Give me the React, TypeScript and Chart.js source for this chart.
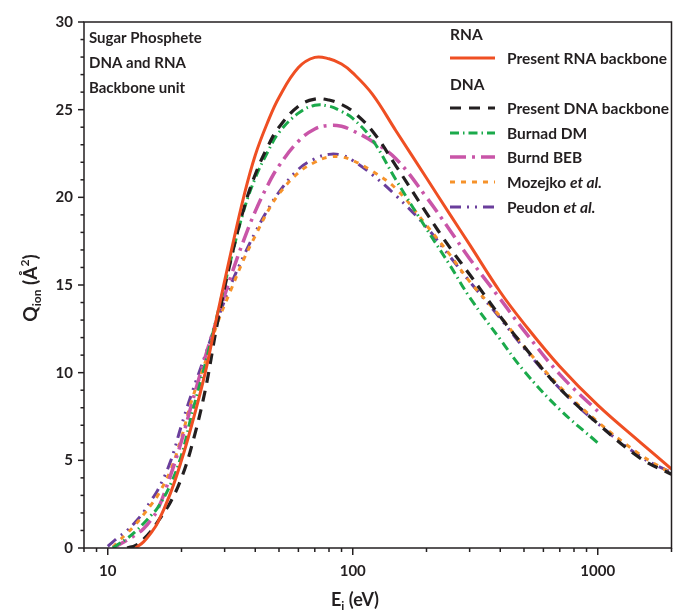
import React, { useEffect, useRef } from 'react';
import { Chart, registerables } from 'chart.js';

Chart.register(...registerables);

// ---- data ----
const energies = [10, 10.5, 11, 12, 13, 14, 15, 16, 18, 20, 22, 25, 28, 32, 36, 40, 45, 50, 60, 70, 80, 90, 100, 120, 150, 200, 250, 300, 400, 500, 700, 1000, 1500, 2000];

const rnaPresent = [null, null, null, null, 0.0, 0.35, 0.85, 1.45, 3.1, 5.0, 7.0, 10.0, 13.3, 17.0, 20.1, 22.4, 24.3, 25.7, 27.4, 27.98, 27.9, 27.6, 27.1, 25.9, 23.8, 21.1, 19.0, 17.3, 14.6, 12.8, 10.35, 8.15, 6.0, 4.5];
const dnaPresent = [null, null, null, 0.0, 0.15, 0.5, 0.95, 1.5, 2.6, 4.0, 5.8, 9.0, 12.8, 16.6, 19.4, 21.3, 22.9, 24.0, 25.2, 25.6, 25.55, 25.3, 24.9, 23.8, 21.8, 19.1, 17.1, 15.6, 13.2, 11.5, 9.1, 7.1, 5.1, 4.2];
const burnadDM = [null, 0.0, 0.2, 0.55, 0.95, 1.4, 1.85, 2.3, 3.6, 5.3, 7.6, 10.5, 13.3, 16.6, 19.3, 21.1, 22.6, 23.7, 24.8, 25.25, 25.2, 24.9, 24.5, 23.3, 21.0, 18.2, 16.1, 14.3, 11.9, 10.1, 7.9, 6.0, null, null];
const burndBEB = [null, 0.0, 0.15, 0.45, 0.75, 1.1, 1.6, 2.2, 4.1, 6.1, 8.2, 10.9, 13.1, 15.6, 17.6, 19.2, 20.7, 21.8, 23.2, 23.9, 24.1, 24.05, 23.8, 23.2, 22.2, 20.0, 18.1, 16.5, 14.2, 12.4, 9.9, 7.8, null, null];
const mozejko = [null, 0.05, 0.35, 0.85, 1.35, 1.9, 2.45, 3.0, 4.4, 6.3, 8.4, 10.6, 12.8, 14.8, 16.5, 17.8, 19.2, 20.2, 21.4, 22.0, 22.3, 22.3, 22.1, 21.5, 20.5, 18.4, 16.7, 15.2, 13.2, 11.5, 9.2, 7.2, 5.3, 4.25];
const peudon = [0.1, 0.35, 0.6, 1.0, 1.5, 2.05, 2.7, 3.3, 4.9, 7.0, 8.8, 11.0, 13.0, 15.1, 16.7, 18.0, 19.3, 20.3, 21.6, 22.2, 22.45, 22.4, 22.1, 21.3, 20.1, 18.3, 16.6, 15.2, 13.1, 11.4, 9.1, 7.1, 5.2, 4.3];

const xTickValues = [10, 100, 1000];
const yTickValues = [0, 5, 10, 15, 20, 25, 30];
const annotationLines = ['Sugar Phosphete', 'DNA and RNA', 'Backbone unit'];

const FONT = "Lato, 'Open Sans', sans-serif";
const INK = '#231F20';

const seriesDefs = [
  { label: 'Present RNA backbone', italic: '', values: rnaPresent, color: '#EF4F23', dash: [] as number[], width: 3 },
  { label: 'Present DNA backbone', italic: '', values: dnaPresent, color: '#231F20', dash: [11, 8], width: 3.2 },
  { label: 'Burnad DM', italic: '', values: burnadDM, color: '#1BAA4B', dash: [9, 4, 1.5, 4], width: 3 },
  { label: 'Burnd BEB', italic: '', values: burndBEB, color: '#C955A8', dash: [16, 6, 3, 6], width: 3.5 },
  { label: 'Mozejko ', italic: 'et al.', values: mozejko, color: '#F6922A', dash: [5, 6], width: 3 },
  { label: 'Peudon ', italic: 'et al.', values: peudon, color: '#6A3E9C', dash: [11, 6, 2, 6, 2, 6], width: 3 },
];

function toPoints(vals: (number | null)[]) {
  return energies.map((x, i) => ({ x, y: vals[i] })).filter((p) => p.y !== null);
}

type Part = { text: string; size: number; dy?: number; italic?: boolean };
function setFont(ctx: CanvasRenderingContext2D, p: Part) {
  ctx.font = `${p.italic ? 'italic ' : ''}bold ${p.size}px ${FONT}`;
}
function richWidth(ctx: CanvasRenderingContext2D, parts: Part[]) {
  let w = 0;
  for (const p of parts) { setFont(ctx, p); w += ctx.measureText(p.text).width; }
  return w;
}
function drawRich(ctx: CanvasRenderingContext2D, parts: Part[], x: number, y: number) {
  let cx = x;
  for (const p of parts) {
    setFont(ctx, p);
    ctx.fillText(p.text, cx, y + (p.dy || 0));
    cx += ctx.measureText(p.text).width;
  }
}

const decorPlugin = {
  id: 'decor',
  afterDraw(chart: any) {
    const { ctx, chartArea: a, scales } = chart;
    const xs = scales.x, ys = scales.y;
    ctx.save();
    ctx.strokeStyle = INK;
    ctx.fillStyle = INK;
    ctx.lineWidth = 1.5;
    ctx.setLineDash([]);
    ctx.strokeRect(a.left, a.top, a.right - a.left, a.bottom - a.top);

    // y ticks
    for (let v = 0; v <= 30; v++) {
      const py = ys.getPixelForValue(v);
      const len = v % 5 === 0 ? 6 : 3.5;
      ctx.beginPath(); ctx.moveTo(a.left - len, py); ctx.lineTo(a.left, py); ctx.stroke();
    }
    // x ticks
    for (const dec of [1, 10, 100, 1000]) {
      for (let m = 1; m <= 9; m++) {
        const v = m * dec;
        if (v < 8 || v > 2000) continue;
        const px = xs.getPixelForValue(v);
        const len = m === 1 ? 7 : 4;
        ctx.beginPath(); ctx.moveTo(px, a.bottom); ctx.lineTo(px, a.bottom + len); ctx.stroke();
      }
    }

    ctx.textAlign = 'left';
    ctx.textBaseline = 'alphabetic';
    // y title
    ctx.save();
    ctx.translate(37, 288);
    ctx.rotate(-Math.PI / 2);
    const yParts: Part[] = [
      { text: 'Q', size: 19 }, { text: 'ion', size: 12, dy: 4 },
      { text: ' (Å', size: 19 }, { text: '2', size: 12, dy: -8 }, { text: ')', size: 19 },
    ];
    drawRich(ctx, yParts, -richWidth(ctx, yParts) / 2, 0);
    ctx.restore();

    // x title
    const xParts: Part[] = [{ text: 'E', size: 18 }, { text: 'i', size: 12, dy: 4 }, { text: ' (eV)', size: 18 }];
    drawRich(ctx, xParts, 355 - richWidth(ctx, xParts) / 2, 606);

    // annotation
    ctx.font = `bold 15px ${FONT}`;
    annotationLines.forEach((t, i) => ctx.fillText(t, 89, 43 + i * 25));

    // legend
    ctx.font = `bold 15.5px ${FONT}`;
    ctx.fillText('RNA', 450, 40);
    ctx.fillText('DNA', 450, 90);
    const rowsY = [58, 108, 133, 157, 182, 207];
    seriesDefs.forEach((s, i) => {
      const y = rowsY[i];
      ctx.save();
      ctx.strokeStyle = s.color;
      ctx.lineWidth = s.width;
      ctx.setLineDash(s.dash);
      ctx.beginPath(); ctx.moveTo(450, y); ctx.lineTo(495, y); ctx.stroke();
      ctx.restore();
      ctx.textBaseline = 'middle';
      const parts: Part[] = [{ text: s.label, size: 15.5 }];
      if (s.italic) parts.push({ text: s.italic, size: 15.5, italic: true });
      drawRich(ctx, parts, 507, y + 1);
      ctx.textBaseline = 'alphabetic';
    });
    ctx.restore();
  },
};

export default function App() {
  const ref = useRef<HTMLCanvasElement>(null);
  useEffect(() => {
    const canvas = ref.current;
    if (!canvas) return;
    const tickFont = { family: FONT, size: 15, weight: 'bold' as const };
    const chart = new Chart(canvas, {
      type: 'line',
      data: {
        datasets: seriesDefs.map((s) => ({
          label: s.label + s.italic,
          data: toPoints(s.values) as any,
          borderColor: s.color,
          backgroundColor: s.color,
          borderWidth: s.width,
          borderDash: s.dash,
          pointRadius: 0,
          fill: false,
          tension: 0.4,
          borderCapStyle: 'butt' as const,
        })),
      },
      options: {
        animation: false,
        responsive: false,
        maintainAspectRatio: false,
        devicePixelRatio: 1,
        layout: { padding: { top: 22, right: 1.5, left: 0, bottom: 0 } },
        plugins: { legend: { display: false }, tooltip: { enabled: false } },
        scales: {
          x: {
            type: 'logarithmic',
            min: 8,
            max: 2000,
            grid: { display: false, drawTicks: false },
            border: { display: false },
            ticks: { autoSkip: false, maxRotation: 0, padding: 14, color: INK, font: tickFont, callback: (v: any) => String(v) },
            afterBuildTicks: (scale: any) => { scale.ticks = xTickValues.map((v) => ({ value: v })); },
            afterFit: (scale: any) => { scale.height = 62; },
          },
          y: {
            type: 'linear',
            min: 0,
            max: 30,
            grid: { display: false, drawTicks: false },
            border: { display: false },
            ticks: { padding: 11, color: INK, font: tickFont },
            afterBuildTicks: (scale: any) => { scale.ticks = yTickValues.map((v) => ({ value: v })); },
            afterFit: (scale: any) => { scale.width = 84; },
          },
        },
      },
      plugins: [decorPlugin],
    } as any);
    return () => chart.destroy();
  }, []);
  return (
    <div style={{ position: 'fixed', left: 0, top: 0, width: 673, height: 610, background: '#fff' }}>
      <canvas ref={ref} width={673} height={610} style={{ display: 'block', width: 673, height: 610 }} />
    </div>
  );
}
